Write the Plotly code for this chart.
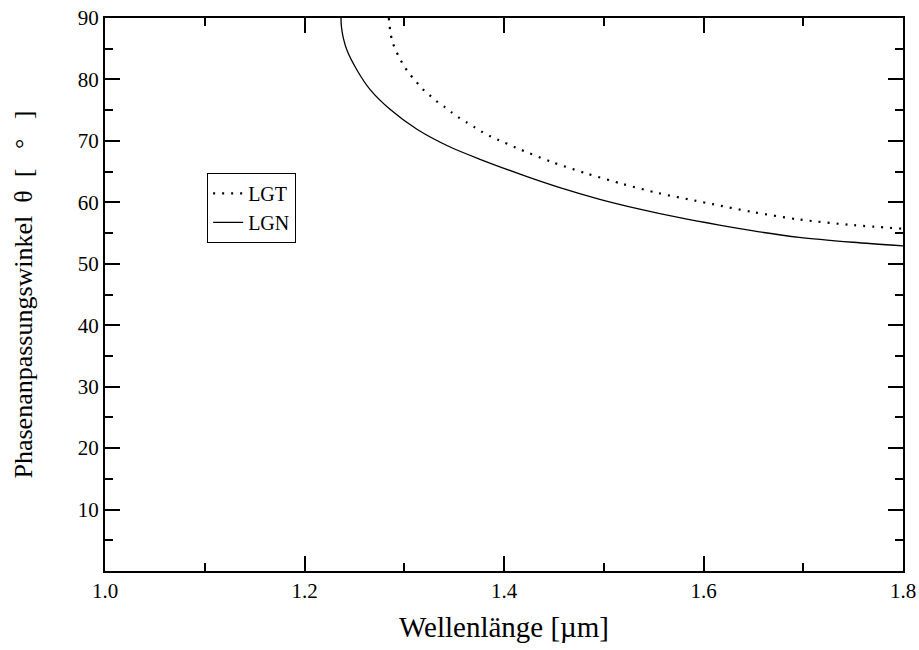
import plotly.graph_objects as go

# LGN (solid) phase matching angle vs wavelength
lgn_wl = [1.2366, 1.2368, 1.2375, 1.239, 1.2427, 1.2527, 1.266, 1.286, 1.3127,
          1.346, 1.376, 1.416, 1.456, 1.496, 1.536, 1.576, 1.616, 1.656,
          1.696, 1.75, 1.80]
lgn_theta = [90.0, 89.0, 88.0, 86.7, 84.7, 81.5, 78.3, 75.1, 71.9,
             69.0, 67.0, 64.6, 62.4, 60.5, 58.9, 57.5, 56.3, 55.2,
             54.3, 53.5, 52.9]

# LGT (dotted)
lgt_wl = [1.2845, 1.285, 1.286, 1.288, 1.2913, 1.2953, 1.300, 1.3053, 1.3117,
          1.318, 1.325, 1.332, 1.3397, 1.347, 1.3547, 1.3627, 1.3707, 1.3787,
          1.387, 1.3953, 1.412, 1.4473, 1.4827, 1.5187, 1.5547, 1.5907,
          1.6093, 1.65, 1.696, 1.75, 1.80]
lgt_theta = [90.0, 89.3, 87.8, 86.2, 84.8, 83.5, 82.1, 80.9, 79.7,
             78.5, 77.5, 76.5, 75.6, 74.7, 73.8, 73.0, 72.2, 71.4,
             70.7, 70.1, 68.9, 66.6, 64.7, 63.0, 61.5, 60.3,
             59.7, 58.4, 57.2, 56.3, 55.7]

x_ticks = [1.0, 1.2, 1.4, 1.6, 1.8]
x_labels = ["1.0", "1.2", "1.4", "1.6", "1.8"]
y_ticks = [10, 20, 30, 40, 50, 60, 70, 80, 90]
y_labels = [str(v) for v in y_ticks]

FONT = "Times New Roman, Liberation Serif, serif"
NB = "\u00a0"

fig = go.Figure()
fig.add_trace(go.Scatter(x=lgt_wl, y=lgt_theta, mode="lines", name="LGT",
                         line=dict(color="black", width=2.2, dash="2px,7px",
                                   shape="spline", smoothing=0.8)))
fig.add_trace(go.Scatter(x=lgn_wl, y=lgn_theta, mode="lines", name="LGN",
                         line=dict(color="black", width=1.3,
                                   shape="spline", smoothing=0.8)))

axis_common = dict(
    showgrid=False, zeroline=False, showline=True, linecolor="black", linewidth=2,
    mirror="allticks", ticks="inside", tickcolor="black", tickwidth=1.5, ticklen=15,
    tickfont=dict(family=FONT, size=21, color="black"),
    automargin=False,
)

y_title = ("Phasenanpassungswinkel" + NB * 2 + "θ" + NB * 2 + "[" + NB * 3 + "°"
           + NB * 3 + "]")

fig.update_xaxes(range=[1.0, 1.8], tickvals=x_ticks, ticktext=x_labels,
                 minor=dict(ticks="inside", ticklen=8, tickwidth=1.5, tickcolor="black",
                            dtick=0.1, tick0=1.0),
                 title=dict(text="Wellenlänge [µm]",
                            font=dict(family=FONT, size=29, color="black"), standoff=14),
                 **axis_common)
fig.update_yaxes(range=[0, 90], tickvals=y_ticks, ticktext=y_labels,
                 minor=dict(ticks="inside", ticklen=8, tickwidth=1.5, tickcolor="black",
                            dtick=5, tick0=0),
                 title=dict(text=y_title,
                            font=dict(family=FONT, size=26, color="black"), standoff=38),
                 **axis_common)

fig.update_layout(
    width=919, height=650,
    margin=dict(l=105, r=16, t=18, b=79),
    paper_bgcolor="white", plot_bgcolor="white",
    font=dict(family=FONT, color="black"),
    legend=dict(x=0.128, y=0.72, xanchor="left", yanchor="top",
                bgcolor="white", bordercolor="black", borderwidth=1,
                font=dict(family=FONT, size=20, color="black"),
                itemwidth=30, tracegroupgap=0),
    showlegend=True,
)

fig.write_html("out.html")
